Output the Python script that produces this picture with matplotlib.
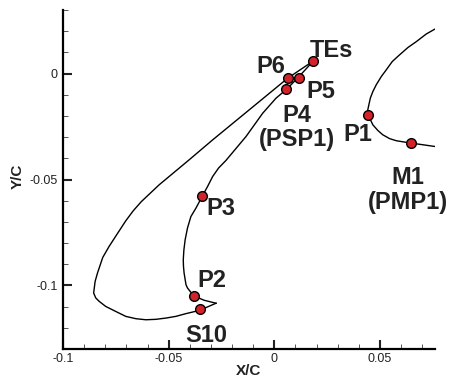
import matplotlib.pyplot as plt
from matplotlib.ticker import MultipleLocator

plt.rcParams['font.family'] = ['Liberation Sans', 'DejaVu Sans']

# Slat contour: outer surface from trailing edge round the leading edge to the cusp
slat_upper_x = [0.0185, 0.0118, 0.0063, -0.0071, -0.0292, -0.0403, -0.0545, -0.0630,
                -0.0668, -0.0703, -0.0743, -0.0782, -0.0812, -0.0837, -0.0848, -0.0853,
                -0.0855, -0.0845, -0.0829, -0.0798, -0.0750, -0.0703, -0.0655, -0.0608,
                -0.0561, -0.0513, -0.0466, -0.0418, -0.0355, -0.0276]
slat_upper_y = [0.0060, 0.0015, -0.0022, -0.0132, -0.0313, -0.0407, -0.0525, -0.0605,
                -0.0648, -0.0695, -0.0756, -0.0816, -0.0868, -0.0942, -0.0981, -0.1020,
                -0.1036, -0.1059, -0.1075, -0.1099, -0.1123, -0.1146, -0.1157, -0.1162,
                -0.1160, -0.1154, -0.1146, -0.1133, -0.1118, -0.1084]
# Slat cove surface from the cusp back up to the trailing edge
slat_cove_x = [-0.0276, -0.0332, -0.0382, -0.0411, -0.0418, -0.0427, -0.0430, -0.0431,
               -0.0428, -0.0422, -0.0411, -0.0395, -0.0371, -0.0340, -0.0316, -0.0292,
               -0.0264, -0.0229, -0.0134, -0.0055, 0.0008, 0.0058, 0.0114, 0.0185]
slat_cove_y = [-0.1084, -0.1070, -0.1049, -0.1012, -0.0997, -0.0942, -0.0910, -0.0879,
               -0.0832, -0.0784, -0.0729, -0.0675, -0.0635, -0.0577, -0.0533, -0.0486,
               -0.0446, -0.0410, -0.0297, -0.0187, -0.0116, -0.0074, -0.0017, 0.0060]

# Main element leading edge
main_x = [0.0758, 0.0719, 0.0672, 0.0632, 0.0592, 0.0558, 0.0529, 0.0506, 0.0482,
          0.0466, 0.0454, 0.0442, 0.0445, 0.0466, 0.0490, 0.0513, 0.0545, 0.0577,
          0.0645, 0.0703, 0.0758]
main_y = [0.0209, 0.0187, 0.0151, 0.0123, 0.0088, 0.0057, 0.0017, -0.0014, -0.0053,
          -0.0085, -0.0116, -0.0171, -0.0198, -0.0242, -0.0269, -0.0289, -0.0307, -0.0317,
          -0.0328, -0.0336, -0.0344]

# Sensor locations
sensor_names = ['TEs', 'P6', 'P5', 'P4', 'P1', 'M1', 'P3', 'P2', 'S10']
sensor_x = [0.0183, 0.0065, 0.0115, 0.0057, 0.0443, 0.0645, -0.0340, -0.0379, -0.0351]
sensor_y = [0.0057, -0.0020, -0.0019, -0.0072, -0.0197, -0.0328, -0.0578, -0.1050, -0.1110]

# Label text and anchor (centre x, baseline y)
label_text = ['TEs', 'P6', 'P5', 'P4\n(PSP1)', 'P1', 'M1\n(PMP1)', 'P3', 'P2', 'S10']
label_x = [0.0270, -0.0017, 0.0220, 0.0106, 0.0393, 0.0630, -0.0251, -0.0294, -0.0322]
label_y = [0.0077, 0.0005, -0.0113, -0.0344, -0.0316, -0.0638, -0.0667, -0.1006, -0.1266]

fig = plt.figure(figsize=(4.52, 3.78), dpi=100)
ax = fig.add_axes([63 / 452, 29 / 378, 372 / 452, 339 / 378])

ax.plot(slat_upper_x, slat_upper_y, color='black', lw=1.0)
ax.plot(slat_cove_x, slat_cove_y, color='black', lw=1.0)
ax.plot(main_x, main_y, color='black', lw=1.0)

ax.plot(sensor_x, sensor_y, 'o', ms=7, mfc='#d2232a', mec='black', mew=1.0, zorder=5)

for txt, lx, ly in zip(label_text, label_x, label_y):
    ax.text(lx, ly, txt, ha='center', va='baseline', fontsize=17, fontweight='bold',
            color='#222222', linespacing=1.1, zorder=6)

ax.set_xlim(-0.1, 0.076)
ax.set_ylim(-0.13, 0.03)

ax.xaxis.set_major_locator(MultipleLocator(0.05))
ax.xaxis.set_minor_locator(MultipleLocator(0.01))
ax.yaxis.set_major_locator(MultipleLocator(0.05))
ax.yaxis.set_minor_locator(MultipleLocator(0.01))
ax.xaxis.set_major_formatter(lambda v, pos: '0' if abs(v) < 1e-9 else f'{v:g}')
ax.yaxis.set_major_formatter(lambda v, pos: '0' if abs(v) < 1e-9 else f'{v:g}')

ax.spines['top'].set_visible(False)
ax.spines['right'].set_visible(False)
ax.spines['left'].set_linewidth(1.6)
ax.spines['bottom'].set_linewidth(1.6)

ax.tick_params(which='major', direction='in', length=6.5, width=1.5, labelsize=9,
               colors='#222222', pad=4)
ax.tick_params(which='minor', direction='in', length=3.5, width=0.7, colors='#555555')
ax.tick_params(axis='x', which='major', pad=3)

ax.text(0.5, -0.077, 'X/C', transform=ax.transAxes, ha='center', va='baseline',
        fontsize=11, fontweight='bold', color='#222222')
ax.text(-0.122, 0.51, 'Y/C', transform=ax.transAxes, ha='center', va='center',
        rotation=90, fontsize=11, fontweight='bold', color='#222222')

fig.savefig('out.png', dpi=100)
